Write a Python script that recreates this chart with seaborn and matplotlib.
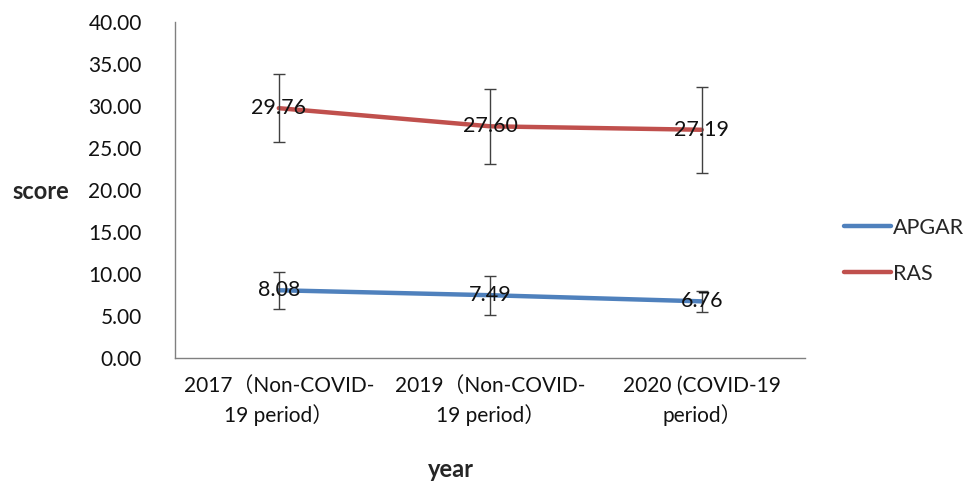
import numpy as np
import pandas as pd
import matplotlib
matplotlib.use("Agg")
import matplotlib.pyplot as plt
import seaborn as sns

# ------------------------------
# Data
# ------------------------------
periods = ["2017（Non-COVID-\n19 period）",
           "2019（Non-COVID-\n19 period）",
           "2020 (COVID-19\nperiod）"]
apgar = [8.08, 7.49, 6.76]
apgar_err = [2.2, 2.3, 1.25]
ras = [29.76, 27.60, 27.19]
ras_err = [4.05, 4.45, 5.13]

df = pd.DataFrame({
    "pos": list(range(len(periods))) * 2,
    "score": apgar + ras,
    "err": apgar_err + ras_err,
    "series": ["APGAR"] * 3 + ["RAS"] * 3,
})

sns.set_style("white")
plt.rcParams["font.family"] = ["Lato", "Noto Sans CJK SC", "DejaVu Sans"]

fig = plt.figure(figsize=(9.68, 4.82), dpi=100)
ax = fig.add_axes([0.181, 0.257, 0.651, 0.697])

palette = {"APGAR": "#4F81BD", "RAS": "#C0504D"}
sns.lineplot(data=df, x="pos", y="score", hue="series", palette=palette,
             linewidth=3.2, ax=ax, legend=True)

for name, grp in df.groupby("series"):
    ax.errorbar(grp["pos"], grp["score"], yerr=grp["err"], fmt="none",
                ecolor="#404040", elinewidth=1, capsize=4, capthick=1, zorder=3)
    for x, y in zip(grp["pos"], grp["score"]):
        ax.text(x, y, f"{y:.2f}", ha="center", va="center", fontsize=15.5,
                color="#111111", zorder=4)

ax.set_xlim(-0.49, 2.49)
ax.set_ylim(0, 40)
ax.set_yticks(np.arange(0, 41, 5))
ax.set_yticklabels([f"{v:.2f}" for v in np.arange(0, 41, 5)], fontsize=15)
ax.set_xticks(range(len(periods)))
ax.set_xticklabels(periods, fontsize=15, linespacing=1.45)
ax.tick_params(axis="both", direction="out", length=5, width=1, color="#808080",
               colors="#111111")
ax.tick_params(axis="both", color="#808080")
ax.tick_params(axis="y", pad=19)
ax.tick_params(axis="x", pad=8)

for side in ["top", "right"]:
    ax.spines[side].set_visible(False)
for side in ["left", "bottom"]:
    ax.spines[side].set_color("#808080")
    ax.spines[side].set_linewidth(1)

ax.set_ylabel("score", fontsize=17, fontweight="bold", rotation=0, va="center",
              ha="center")
ax.yaxis.set_label_coords(-0.213, 0.495)
ax.set_xlabel("year", fontsize=17, fontweight="bold", va="center")
ax.xaxis.set_label_coords(0.437, -0.333)

leg = ax.legend(loc="center left", bbox_to_anchor=(1.03, 0.32), frameon=False,
                fontsize=15.5, handlelength=2.2, handletextpad=0.1, labelspacing=1.2)
for line in leg.get_lines():
    line.set_linewidth(3.2)

fig.savefig("out.png", dpi=100)
